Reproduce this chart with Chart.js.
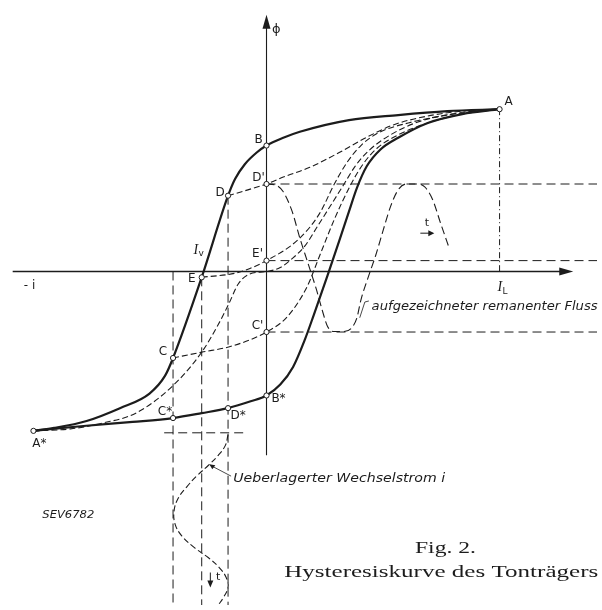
<!DOCTYPE html>
<html>
<head>
<meta charset="utf-8">
<script src="https://cdn.jsdelivr.net/npm/chart.js@4"></script>
<style>
  html, body { margin: 0; padding: 0; background: #fff; }
  canvas { display: block; }
</style>
</head>
<body>
<canvas id="hyst" width="602" height="610"></canvas>
<script>
// current i in units of I_L, flux phi in units of phi(A)
const upperBranch = [[-1.00,-0.982],[-0.911,-0.964],[-0.772,-0.921],[-0.629,-0.842],[-0.502,-0.752],[-0.435,-0.642],[-0.401,-0.533],[-0.278,-0.036],[-0.165,0.467],[-0.135,0.570],[-0.093,0.661],[-0.042,0.733],[0,0.776],[0.072,0.824],[0.143,0.861],[0.354,0.933],[0.565,0.964],[0.776,0.988],[1,1]];
const lowerBranch = [[-1.00,-0.982],[-0.785,-0.952],[-0.574,-0.927],[-0.401,-0.903],[-0.278,-0.873],[-0.165,-0.842],[-0.068,-0.800],[0,-0.764],[0.059,-0.697],[0.114,-0.588],[0.165,-0.418],[0.203,-0.267],[0.262,-0.024],[0.312,0.188],[0.354,0.370],[0.388,0.515],[0.430,0.648],[0.489,0.752],[0.565,0.824],[0.692,0.915],[0.840,0.970],[1.00,1.00]];
const returnD = [[-0.165,0.467],[-0.080,0.503],[0,0.539],[0.072,0.582],[0.186,0.642],[0.312,0.733],[0.426,0.824],[0.544,0.903],[0.692,0.958],[0.840,0.988],[1,1]];
const returnE = [[-0.278,-0.036],[-0.122,-0.006],[0,0.067],[0.143,0.206],[0.228,0.358],[0.291,0.539],[0.346,0.673],[0.405,0.776],[0.481,0.855],[0.608,0.915],[0.776,0.964],[1,1]];
const returnC = [[-0.401,-0.533],[-0.278,-0.497],[-0.152,-0.461],[0,-0.373],[0.089,-0.279],[0.173,-0.097],[0.228,0.097],[0.291,0.321],[0.363,0.539],[0.414,0.661],[0.473,0.758],[0.565,0.842],[0.692,0.915],[0.840,0.970],[1,1]];
const sCurve = [[-1.00,-0.982],[-0.840,-0.970],[-0.700,-0.933],[-0.561,-0.873],[-0.401,-0.703],[-0.278,-0.497],[-0.207,-0.327],[-0.160,-0.194],[-0.122,-0.079],[-0.076,-0.018],[0,0],[0.059,0.024],[0.110,0.079],[0.165,0.158],[0.219,0.279],[0.333,0.539],[0.380,0.648],[0.439,0.745],[0.532,0.842],[0.650,0.921],[0.819,0.976],[1,1]];
// recorded remanent flux over time (t to the right)
const recordedFlux = [[0,0.539],[0.038,0.533],[0.072,0.491],[0.110,0.370],[0.143,0.206],[0.177,0.055],[0.215,-0.115],[0.241,-0.248],[0.262,-0.339],[0.291,-0.370],[0.333,-0.370],[0.367,-0.345],[0.388,-0.285],[0.405,-0.176],[0.439,-0.024],[0.468,0.097],[0.502,0.261],[0.532,0.400],[0.565,0.503],[0.599,0.539],[0.641,0.539],[0.679,0.521],[0.713,0.442],[0.747,0.297],[0.785,0.139]];
// superimposed bias current over time (t downwards)
const biasCurrent = [[-0.165,-1.006],[-0.177,-1.073],[-0.207,-1.133],[-0.249,-1.194],[-0.300,-1.261],[-0.342,-1.327],[-0.380,-1.400],[-0.397,-1.479],[-0.392,-1.558],[-0.363,-1.630],[-0.308,-1.703],[-0.249,-1.764],[-0.203,-1.824],[-0.173,-1.885],[-0.165,-1.945],[-0.186,-2.012],[-0.207,-2.055]];

const keyPoints = {
  'A': [1, 1], 'A*': [-1, -0.982], 'B': [0, 0.776], 'B*': [0, -0.764],
  'C': [-0.401, -0.533], "C'": [0, -0.373], 'C*': [-0.401, -0.903],
  'D': [-0.165, 0.467], "D'": [0, 0.539], 'D*': [-0.165, -0.842],
  'E': [-0.278, -0.036], "E'": [0, 0.067]
};

const guideLines = [
  [[0,0.539],[1.42,0.539]], [[0,0.067],[1.42,0.067]], [[0,-0.373],[1.42,-0.373]],
  [[-0.439,-0.994],[-0.089,-0.994]],
  [[-0.401,0],[-0.401,-2.06]], [[-0.278,-0.036],[-0.278,-2.06]], [[-0.165,0.467],[-0.165,-2.06]]
];
const guideA = [[1,1],[1,0]];
const axisI = [[-1.089,0],[1.27,0]];
const axisPhi = [[0,-1.133],[0,1.53]];
const iTip = 1.316, phiTip = 1.582;

const ink = '#1c1c1c';
const toXY = arr => arr.map(p => ({ x: p[0], y: p[1] }));

function curve(data, width, dash, smooth) {
  const ds = {
    data: toXY(data), showLine: true, borderColor: ink, borderWidth: width,
    borderDash: dash, pointRadius: 0, fill: false, order: 1, tension: 0
  };
  if (smooth === 'mono') ds.cubicInterpolationMode = 'monotone';
  else if (smooth) ds.tension = smooth;
  return ds;
}

const datasets = [
  {
    data: Object.values(keyPoints).map(p => ({ x: p[0], y: p[1] })),
    pointRadius: 2.6, pointBackgroundColor: '#fff', pointBorderColor: ink,
    pointBorderWidth: 1, showLine: false, order: 0
  },
  curve(upperBranch, 2.2, [], 'mono'),
  curve(lowerBranch, 2.2, [], 'mono'),
  curve(returnD, 1.1, [6, 3], 'mono'),
  curve(returnE, 1.1, [6, 3], 'mono'),
  curve(returnC, 1.1, [6, 3], 'mono'),
  curve(sCurve, 1.1, [6, 3], 'mono'),
  curve(recordedFlux, 1.1, [8, 4], 'mono'),
  curve(biasCurrent, 1.1, [6, 3], 0.4),
  curve(guideA, 1, [6, 3, 1, 3], 0),
  curve(axisI, 1.3, [], 0),
  curve(axisPhi, 1.1, [], 0)
];
guideLines.forEach(g => datasets.push(curve(g, 1, [9, 5], 0)));

// letter labels next to the key points (pixel offsets)
const pointLabels = [
  ['A', 9, -7], ['A*', 6, 13], ['B', -8, -6], ['B*', 12, 3],
  ['C', -10, -6], ["C'", -9, -6], ['C*', -8, -6],
  ['D', -8, -3], ["D'", -8, -6], ['D*', 10, 8],
  ['E', -10, 2], ["E'", -9, -7]
];

// free texts: text, i, phi, font, width, align
const notes = [
  ['aufgezeichneter remanenter Fluss', 0.451, -0.218, 'italic 12px "DejaVu Sans"', 226, 'left'],
  ['Ueberlagerter Wechselstrom i', -0.143, -1.279, 'italic 12px "DejaVu Sans"', 212, 'left'],
  ['SEV6782', -0.962, -1.503, 'italic 10px "DejaVu Sans"', 52, 'left'],
  ['Fig. 2.', 0.637, -1.709, '17px "Liberation Serif"', 61, 'left'],
  ['Hysteresiskurve des Tonträgers', 0.076, -1.855, '17px "Liberation Serif"', 314, 'left'],
  ['\u03D5', 0.042, 1.491, '13px "DejaVu Sans"', 0, 'center'],
  ['- i', -1.017, -0.091, '12px "DejaVu Sans"', 0, 'center'],
  ['t', 0.688, 0.297, '11px "DejaVu Sans"', 0, 'center'],
  ['t', -0.207, -1.885, '11px "DejaVu Sans"', 0, 'center']
];

function drawText(ctx, str, x, y, font, width, align) {
  ctx.font = font;
  ctx.textBaseline = 'middle';
  const w = ctx.measureText(str).width;
  ctx.save();
  ctx.translate(align === 'center' ? x - (width || w) / 2 : x, y);
  if (width) ctx.scale(width / w, 1);
  ctx.textAlign = 'left';
  ctx.fillText(str, 0, 0);
  ctx.restore();
}

const marks = {
  id: 'marks',
  afterDatasetsDraw(chart) {
    const ctx = chart.ctx;
    const sx = chart.scales.x, sy = chart.scales.y;
    const P = (i, f) => [sx.getPixelForValue(i), sy.getPixelForValue(f)];
    ctx.save();
    ctx.fillStyle = ink;
    ctx.strokeStyle = ink;

    // axis arrow heads
    let [tx, ty] = P(iTip, 0);
    ctx.beginPath(); ctx.moveTo(tx, ty); ctx.lineTo(tx - 14, ty - 4); ctx.lineTo(tx - 14, ty + 4); ctx.closePath(); ctx.fill();
    [tx, ty] = P(0, phiTip);
    ctx.beginPath(); ctx.moveTo(tx, ty); ctx.lineTo(tx - 4, ty + 14); ctx.lineTo(tx + 4, ty + 14); ctx.closePath(); ctx.fill();

    pointLabels.forEach(([name, dx, dy]) => {
      const [x, y] = P(keyPoints[name][0], keyPoints[name][1]);
      drawText(ctx, name, x + dx, y + dy, '12px "DejaVu Sans"', 0, 'center');
    });

    notes.forEach(([str, i, f, font, width, align]) => {
      const [x, y] = P(i, f);
      drawText(ctx, str, x, y, font, width, align);
    });

    // script I with subscript
    [['v', -0.287, 0.133], ['L', 1.017, -0.097]].forEach(([sub, i, f]) => {
      const [x, y] = P(i, f);
      drawText(ctx, 'I', x - 6, y, 'italic 14px "Liberation Serif"', 0, 'left');
      drawText(ctx, sub, x - 1, y + 4, '9px "DejaVu Sans"', 0, 'left');
    });

    ctx.lineWidth = 1;
    // little time arrows
    let [ax, ay] = P(0.660, 0.236);
    ctx.beginPath(); ctx.moveTo(ax, ay); ctx.lineTo(ax + 12, ay); ctx.stroke();
    ctx.beginPath(); ctx.moveTo(ax + 14, ay); ctx.lineTo(ax + 8, ay - 3); ctx.lineTo(ax + 8, ay + 3); ctx.closePath(); ctx.fill();
    [ax, ay] = P(-0.241, -1.855);
    ctx.beginPath(); ctx.moveTo(ax, ay); ctx.lineTo(ax, ay + 12); ctx.stroke();
    ctx.beginPath(); ctx.moveTo(ax, ay + 15); ctx.lineTo(ax - 3, ay + 8); ctx.lineTo(ax + 3, ay + 8); ctx.closePath(); ctx.fill();

    // leader lines to the two notes
    ctx.lineWidth = 0.8;
    let [lx, ly] = P(0.422, -0.188);
    let [mx, my] = P(0.400, -0.285);
    ctx.beginPath(); ctx.moveTo(lx + 4, ly - 1); ctx.lineTo(lx, ly); ctx.lineTo(mx, my); ctx.stroke();
    [lx, ly] = P(-0.152, -1.261);
    [mx, my] = P(-0.241, -1.194);
    ctx.beginPath(); ctx.moveTo(lx, ly); ctx.lineTo(mx, my); ctx.stroke();
    ctx.beginPath(); ctx.moveTo(mx - 1, my - 1); ctx.lineTo(mx + 5, my); ctx.lineTo(mx + 2, my + 4); ctx.closePath(); ctx.fill();
    ctx.restore();
  }
};

new Chart(document.getElementById('hyst'), {
  type: 'scatter',
  data: { datasets: datasets },
  options: {
    responsive: false,
    animation: false,
    devicePixelRatio: 1,
    layout: { padding: 0 },
    scales: {
      x: { type: 'linear', min: -1.122, max: 1.418, display: false },
      y: { type: 'linear', min: -2.055, max: 1.642, display: false }
    },
    plugins: { legend: { display: false }, tooltip: { enabled: false } }
  },
  plugins: [marks]
});
</script>
</body>
</html>
